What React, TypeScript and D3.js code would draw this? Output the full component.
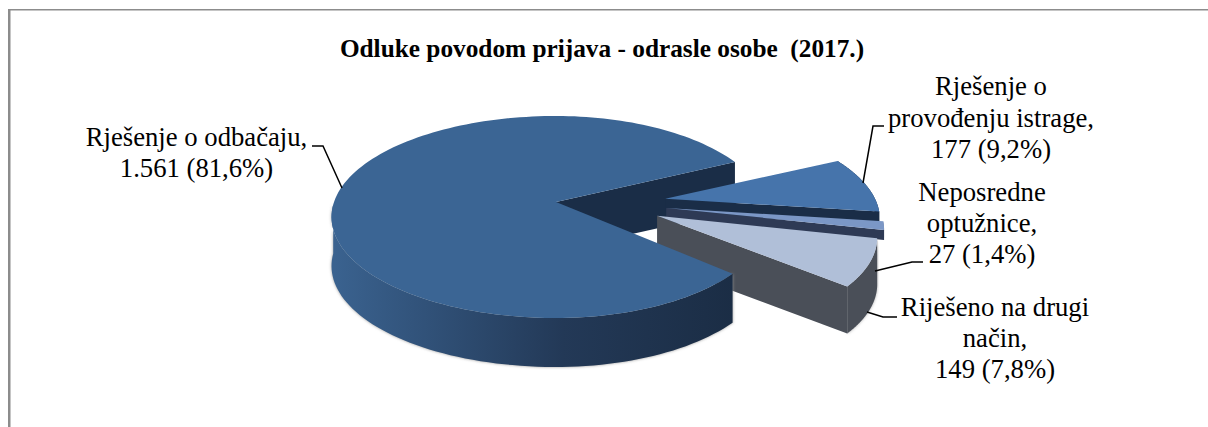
import React from "react";
import * as d3 from "d3";

const categories = ["Rješenje o provođenju istrage", "Neposredne optužnice", "Riješeno na drugi način", "Rješenje o odbačaju"];
const values = [177, 27, 149, 1561];
const exploded = [true, true, true, false];
const topColors = ["#4674ab", "#7b97c6", "#b0bfd8", "#3b6594"];
const cutColors = ["#1a2d47", "#2e3a55", "#4a4f58", "#1a2d47"];
const visibleDepth = [14, 10, 47, 49];
const titleText = "Odluke povodom prijava - odrasle osobe  (2017.)";

const FONT = "'Liberation Serif', 'Times New Roman', serif";
const CX = 556, CY = 202, R = 222, RY = 98.8, K = 0.1485;
const START = (-25.5 * Math.PI) / 180;

type P = [number, number];
const project = (u: number, v: number, drop = 0): P => {
  const s = 1 / (1 - K * v);
  return [CX + R * u * s, CY + RY * v * s + drop];
};

const slices = d3.pie<number>().sort(null).value((d) => d).startAngle(START).endAngle(START + 2 * Math.PI)(values);

const line = d3.line<P>();
const close = (pts: P[]) => line(pts) + "Z";

function geometry(i: number) {
  const a0 = slices[i].startAngle, a1 = slices[i].endAngle;
  const mid = (a0 + a1) / 2;
  const ou = exploded[i] ? 0.5 * Math.cos(mid) : 0;
  const ov = exploded[i] ? 0.28 * Math.sin(mid) + 0.01 : 0;
  const rr = exploded[i] ? 0.95 : 1;
  const depth = visibleDepth[i];
  const angles = d3.range(0, 161).map((t) => a0 + ((a1 - a0) * t) / 160);
  const rimPt = (a: number, drop: number) => {
    const c = Math.cos(a);
    const squeeze = !exploded[i] && c > 0 ? 0.95 : 1;
    return project(ou + rr * squeeze * c, ov + rr * Math.sin(a), drop);
  };
  const apex = (drop: number) => project(ou, ov, drop);
  const top = close([apex(0), ...angles.map((a) => rimPt(a, 0))]);
  const wall = (from: number, to: number) => {
    const seg = angles.filter((a) => a >= from && a <= to);
    return close([...seg.map((a) => rimPt(a, 0)), ...seg.map((a) => rimPt(a, depth)).reverse()]);
  };
  const face = (a: number) => close([apex(0), rimPt(a, 0), rimPt(a, depth), apex(depth)]);
  return { a0, a1, top, wall, face };
}

// leader lines and label anchors (layout only)
const leaders: [number, number][][] = [
  [[863, 183], [873, 126], [884, 126]],
  [[875, 271], [912, 262], [923, 262]],
  [[867, 312], [883, 317], [897, 317]],
  [[342, 188], [323, 146], [312, 146]],
];
const labels: { x: number; ys: number[]; lines: string[] }[] = [
  { x: 991, ys: [95, 126.5, 158], lines: ["Rješenje o", "provođenju istrage,", "177 (9,2%)"] },
  { x: 982, ys: [201, 232, 263], lines: ["Neposredne", "optužnice,", "27 (1,4%)"] },
  { x: 995, ys: [316, 347, 378], lines: ["Riješeno na drugi", "način,", "149 (7,8%)"] },
  { x: 196.5, ys: [146, 177], lines: ["Rješenje o odbačaju,", "1.561 (81,6%)"] },
];

export default function App() {
  const [blue, nep, pale, main] = [0, 1, 2, 3].map(geometry);
  return (
    <svg width={1208} height={427} style={{ position: "absolute", left: 0, top: 0, background: "#fff" }}>
      <defs>
        <linearGradient id="mainWall" gradientUnits="userSpaceOnUse" x1={335} x2={790} y1={0} y2={0}>
          <stop offset="0" stopColor="#3a628f" />
          <stop offset="0.5" stopColor="#233957" />
          <stop offset="1" stopColor="#18293f" />
        </linearGradient>
        <filter id="soft" x="-5%" y="-5%" width="110%" height="110%">
          <feGaussianBlur stdDeviation="1.4" />
        </filter>
      </defs>
      <line x1={9.25} x2={9.25} y1={9} y2={427} stroke="#8c8c8c" strokeWidth={2.5} />
      <line x1={8} x2={1208} y1={9.75} y2={9.75} stroke="#8c8c8c" strokeWidth={1.5} />
      <text x={602} y={57} textAnchor="middle" fontFamily={FONT} fontWeight="bold" fontSize={25.3} style={{ whiteSpace: "pre" }}>
        {titleText}
      </text>

      {/* back cut of the large slice */}
      <path d={main.face(main.a1)} fill={cutColors[3]} />

      {/* exploded slices, top to bottom */}
      {[blue, nep, pale].map((g, i) => (
        <g key={categories[i]}>
          {i === 2 && <path d={g.wall(g.a0, g.a1)} fill="#aaa" filter="url(#soft)" />}
          <path d={g.wall(g.a0, g.a1)} fill={cutColors[i]} />
          <path d={g.face(g.a1)} fill={cutColors[i]} />
          <path d={g.top} fill={topColors[i]} />
        </g>
      ))}

      {/* large slice: only the front of its rim shows */}
      <path d={main.wall(main.a0, Math.PI)} fill="#999" filter="url(#soft)" />
      <path d={main.wall(main.a0, Math.PI)} fill="url(#mainWall)" />
      <path d={main.top} fill={topColors[3]} />

      {leaders.map((pts, i) => (
        <path key={i} d={line(pts) as string} fill="none" stroke="#000" strokeWidth={1.5} />
      ))}
      {labels.map((l, i) => (
        <text key={i} fontFamily={FONT} fontSize={26.7} textAnchor="middle" fill="#000">
          {l.lines.map((t, j) => (
            <tspan key={j} x={l.x} y={l.ys[j]}>
              {t}
            </tspan>
          ))}
        </text>
      ))}
    </svg>
  );
}
